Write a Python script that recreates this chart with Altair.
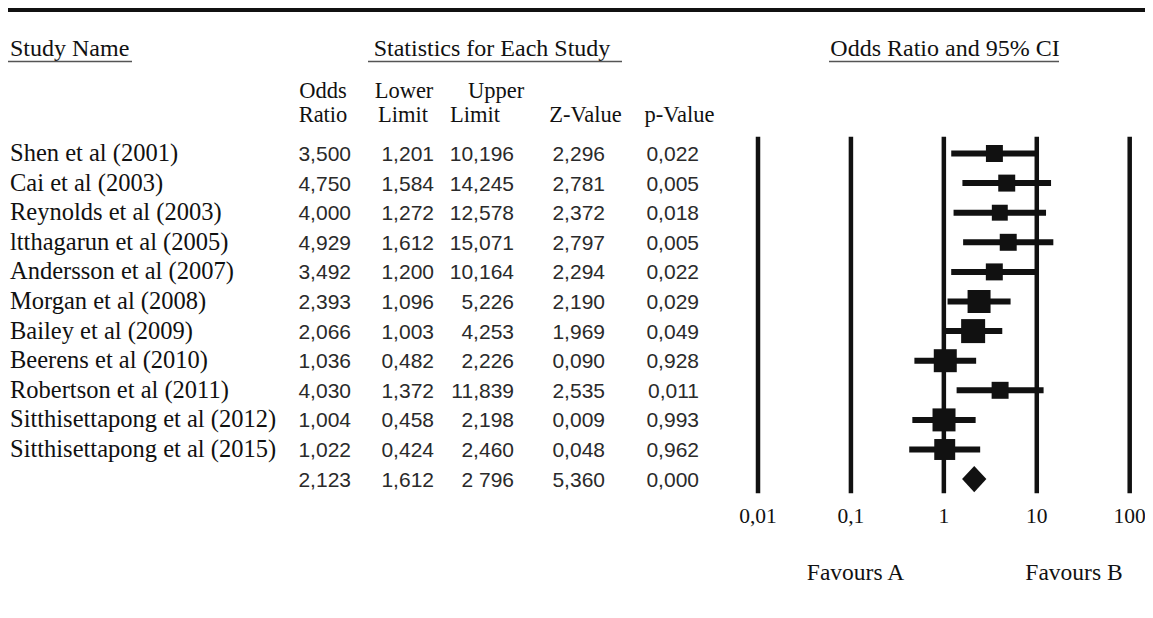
import altair as alt
import pandas as pd

# ---------------- data ----------------
studies = [
    "Shen et al (2001)", "Cai et al (2003)", "Reynolds et al (2003)",
    "ltthagarun et al (2005)", "Andersson et al (2007)", "Morgan et al (2008)",
    "Bailey et al (2009)", "Beerens et al (2010)", "Robertson et al (2011)",
    "Sitthisettapong et al (2012)", "Sitthisettapong et al (2015)",
]
odds_ratio = [3.500, 4.750, 4.000, 4.929, 3.492, 2.393, 2.066, 1.036, 4.030, 1.004, 1.022]
lower_limit = [1.201, 1.584, 1.272, 1.612, 1.200, 1.096, 1.003, 0.482, 1.372, 0.458, 0.424]
upper_limit = [10.196, 14.245, 12.578, 15.071, 10.164, 5.226, 4.253, 2.226, 11.839, 2.198, 2.460]
z_value = [2.296, 2.781, 2.372, 2.797, 2.294, 2.190, 1.969, 0.090, 2.535, 0.009, 0.048]
p_value = [0.022, 0.005, 0.018, 0.005, 0.022, 0.029, 0.049, 0.928, 0.011, 0.993, 0.962]
weights = [6.7, 6.7, 5.9, 6.7, 6.7, 12.3, 13.4, 12.3, 6.7, 12.3, 10.2]

summary_or = 2.123
summary_lower = 1.612
summary_upper = 2.796
summary_z = 5.360
summary_p = 0.000
summary_upper_label = "2 796"   # as printed in the source

ticks = [0.01, 0.1, 1, 10, 100]
tick_labels = ["0,01", "0,1", "1", "10", "100"]

# ---------------- layout ----------------
W, H = 1137, 602
ROW0, ROWSTEP = 145.5, 29.6
n = len(studies)
row_scale = alt.Scale(domain=[0, n], range=[ROW0, ROW0 + ROWSTEP * n])
log_scale = alt.Scale(type="log", domain=[0.01, 100], range=[750, 1121.7])
SERIF = "Liberation Serif"
SANS = "Liberation Sans"
INK = "#111111"
NUM_INK = "#2a2a2a"


def fmt(v):
    return f"{v:.3f}".replace(".", ",")


table = pd.DataFrame({
    "row": list(range(n)) + [n],
    "study": studies + [""],
    "or_lbl": [fmt(v) for v in odds_ratio] + [fmt(summary_or)],
    "lo_lbl": [fmt(v) for v in lower_limit] + [fmt(summary_lower)],
    "up_lbl": [fmt(v) for v in upper_limit] + [summary_upper_label],
    "z_lbl": [fmt(v) for v in z_value] + [fmt(summary_z)],
    "p_lbl": [fmt(v) for v in p_value] + [fmt(summary_p)],
})

forest = pd.DataFrame({
    "row": list(range(n)),
    "or": odds_ratio,
    "lo": lower_limit,
    "up": upper_limit,
    "w": weights,
})
summ = pd.DataFrame({"row": [n], "or": [summary_or]})
tick_df = pd.DataFrame({"tick": ticks, "label": tick_labels})
one = pd.DataFrame({"a": [0]})

Yrow = alt.Y("row:Q", scale=row_scale, axis=None)

layers = []

# table columns
name_layer = alt.Chart(table).mark_text(
    align="left", baseline="alphabetic", dy=7.5, font=SERIF, fontSize=24.5, color=INK
).encode(x=alt.value(2), y=Yrow, text="study:N")
layers.append(name_layer)

for field, xr in [("or_lbl", 343), ("lo_lbl", 426), ("up_lbl", 506), ("z_lbl", 597), ("p_lbl", 691)]:
    layers.append(
        alt.Chart(table).mark_text(
            align="right", baseline="alphabetic", dy=7.5, font=SANS, fontSize=21, color=NUM_INK
        ).encode(x=alt.value(xr), y=Yrow, text=f"{field}:N")
    )


def label(text, x, y, size=24, align="center"):
    return alt.Chart(one).mark_text(
        text=text, align=align, baseline="alphabetic", font=SERIF, fontSize=size, color=INK
    ).encode(x=alt.value(x), y=alt.value(y))


def hline(x1, x2, y, width=1.5, color="#555555"):
    return alt.Chart(one).mark_rule(strokeWidth=width, color=color).encode(
        x=alt.value(x1), x2=alt.value(x2), y=alt.value(y)
    )


# top thick line
layers.append(hline(0, W, 2, width=4, color=INK))

# group headers
layers += [
    label("Study Name", 2, 47.5, align="left"),
    label("Statistics for Each Study", 484, 47.5),
    label("Odds Ratio and 95% CI", 937, 48),
    hline(0, 124, 53.5),
    hline(360, 614, 53.5),
    hline(821, 1051, 53.5),
]

# column headers
HS = 22.5
layers += [
    label("Odds", 315, 90, HS), label("Ratio", 315, 113.5, HS),
    label("Lower", 396, 90, HS), label("Limit", 395, 113.5, HS),
    label("Upper", 488, 90, HS), label("Limit", 467, 113.5, HS),
    label("Z-Value", 577.5, 113.5, HS), label("p-Value", 671.5, 113.5, HS),
]

# vertical reference lines
layers.append(
    alt.Chart(tick_df).mark_rule(strokeWidth=4.5, color=INK).encode(
        x=alt.X("tick:Q", scale=log_scale, axis=None),
        y=alt.value(128.7), y2=alt.value(485.3),
    )
)

# confidence intervals
layers.append(
    alt.Chart(forest).mark_rule(strokeWidth=6, color=INK).encode(
        x=alt.X("lo:Q", scale=log_scale, axis=None), x2="up:Q", y=Yrow
    )
)

# study squares
layers.append(
    alt.Chart(forest).mark_square(filled=True, opacity=1, color=INK).encode(
        x=alt.X("or:Q", scale=log_scale, axis=None),
        y=Yrow,
        size=alt.Size("w:Q", scale=alt.Scale(domain=[0, 13.4], range=[0, 576]), legend=None),
    )
)

# summary diamond
layers.append(
    alt.Chart(summ).mark_point(
        shape="M-1,0L0,-1.08L1,0L0,1.08Z", filled=True, opacity=1, color=INK, size=590
    ).encode(x=alt.X("or:Q", scale=log_scale, axis=None), y=Yrow)
)

# tick labels
layers.append(
    alt.Chart(tick_df).mark_text(
        baseline="alphabetic", align="center", font=SERIF, fontSize=21.5, color=INK
    ).encode(x=alt.X("tick:Q", scale=log_scale, axis=None), y=alt.value(515.3), text="label:N")
)

# favours labels
layers += [
    label("Favours A", 847.5, 572, size=23.5),
    label("Favours B", 1066, 572, size=23.5),
]

chart = alt.layer(*layers).properties(
    width=W, height=H, padding=0, autosize=alt.AutoSizeParams(type="none"),
    background="white",
).configure_view(stroke=None)

chart.save("out.html", embed_options={"renderer": "svg", "actions": False})
